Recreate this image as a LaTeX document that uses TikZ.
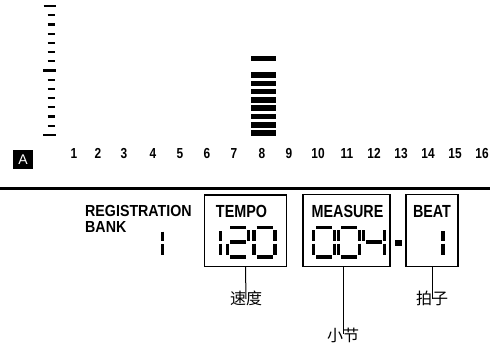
\documentclass[tikz,border=0pt]{standalone}
\usepackage{fontspec}
\setmainfont{Liberation Sans}
\newfontfamily\lcd[FakeStretch=0.82]{Liberation Sans Bold}
\newfontfamily\lcdw[FakeStretch=0.89]{Liberation Sans Bold}
\newfontfamily\cjk{Noto Sans CJK SC}
\begin{document}
\begin{tikzpicture}[x=1pt,y=-1pt,
  seg/.style={line width=3.6pt, line cap=butt},
  tick/.style={line width=2.2pt},
  bar/.style={fill=black, draw=none},
  lcdbox/.style={draw, line width=1.2pt, inner sep=0pt},
  lcdtext/.style={font=\lcd\fontsize{17.5}{18}\selectfont, inner sep=0pt},
  numtext/.style={font=\lcd\fontsize{14.5}{15}\selectfont, inner sep=0pt, anchor=base},
  cjktext/.style={font=\cjk\fontsize{16}{17}\selectfont, inner sep=0pt, anchor=north},
  conn/.style={line width=1pt},
  pics/dzero/.style={code={\draw[seg] (2.5,0)--(18.5,0) (21,2.5)--(21,13) (21,16)--(21,27) (2.5,29.5)--(18.5,29.5) (0,16)--(0,27) (0,2.5)--(0,13);}},
  pics/done/.style={code={\draw[seg] (0,3.5)--(0,13) (0,16)--(0,27);}},
  pics/dtwo/.style={code={\draw[seg] (2.5,0)--(18.5,0) (21,2.5)--(21,13) (2.5,14.75)--(18.5,14.75) (0,16)--(0,27) (2.5,29.5)--(18.5,29.5);}},
  pics/dfour/.style={code={\draw[seg] (0,2.5)--(0,13) (2.5,14.75)--(18.5,14.75) (21,2.5)--(21,13) (21,16)--(21,27);}}
]
\path[use as bounding box] (0,0) rectangle (490,346);

% vertical level scale
\foreach \i in {0,...,14}{
  \pgfmathsetmacro\yy{6+9.21*\i}
  \ifnum\i=0 \draw[tick] (43.5,\yy)--(55.5,\yy);
  \else\ifnum\i=7 \draw[tick] (43,\yy)--(55.5,\yy);
  \else\ifnum\i=14 \draw[tick] (43,\yy)--(56,\yy);
  \else \draw[tick] (47.5,\yy)--(55,\yy);
  \fi\fi\fi
}

% bar column at 8
\foreach \i in {0,...,7}{
  \pgfmathsetmacro\yy{72.3+8.29*\i}
  \fill[bar] (251,\yy) rectangle (276,\yy+5.6);
}
\fill[bar] (251,55.8) rectangle (276,61.4);

% A box
\node[fill=black, text=white, minimum width=20, minimum height=19, inner sep=0pt, font=\fontsize{14}{15}\selectfont] (abox) at (23,159.5) {A};

% numbers
\foreach \n/\xx in {1/74,2/98,3/124,4/153,5/180,6/207,7/234,8/262,9/289,10/318,11/347,12/374,13/401,14/428,15/455,16/482}{
  \node[numtext] (n\n) at (\xx,158.5) {\n};
}

% separator line
\draw[line width=3pt] (0,188) -- (490,188);

% registration bank
\node[font=\lcdw\fontsize{16}{16}\selectfont, inner sep=0pt, align=left, anchor=base west] (reg) at (85,232.5) {REGISTRATION\\BANK};
\pic at (162.5,228) {done};

% boxes
\node[lcdbox, minimum width=82, minimum height=71.5] (tempo) at (245.5,230.75) {};
\node[lcdbox, minimum width=87, minimum height=72] (measure) at (346.5,230.75) {};
\node[lcdbox, minimum width=52, minimum height=72] (beat) at (432,230.75) {};

\node[lcdtext, anchor=base] (ttempo) at (241.5,217) {TEMPO};
\node[lcdtext, anchor=base] (tmeasure) at (347.5,217) {MEASURE};
\node[lcdtext, anchor=base] (tbeat) at (432,217) {BEAT};

% digits
\pic at (220.5,227.5) {done};
\pic at (227.5,227.5) {dtwo};
\pic at (254,227.5) {dzero};
\pic at (313.5,227.5) {dzero};
\pic at (338.5,227.5) {dzero};
\pic at (363.5,227.5) {dfour};
\pic at (443,227.5) {done};
\fill (395,240) rectangle (402,245.5);

% labels
\node[cjktext] (sudu) at (246,291) {速度};
\node[cjktext] (xiaojie) at (343,328) {小节};
\node[cjktext] (paizi) at (432,291) {拍子};

\draw[conn] (tempo.south) -- ([yshift=-8pt]sudu.north);
\draw[conn] (measure.south -| xiaojie.north) -- ([yshift=-6pt]xiaojie.north);
\draw[conn] (beat.south) -- ([yshift=-8pt]paizi.north);
\end{tikzpicture}
\end{document}
